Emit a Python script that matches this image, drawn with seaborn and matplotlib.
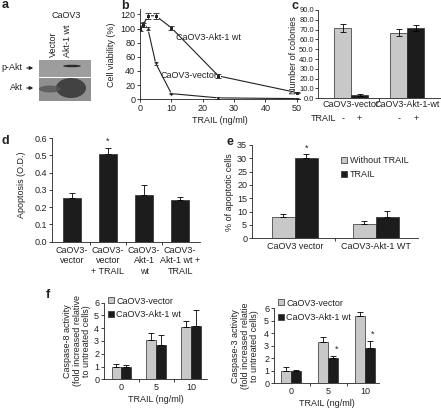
import numpy as np
import pandas as pd
import matplotlib
matplotlib.use("Agg")
import matplotlib.pyplot as plt
import seaborn as sns
from matplotlib.patches import Rectangle, Ellipse
from matplotlib.lines import Line2D
from matplotlib.ticker import FormatStrFormatter

# ---------------- data ----------------
# b: cell viability
trail_b = [0, 1, 2.5, 5, 10, 25, 50]
viab_vector = [100, 107, 100, 51, 8, 2, 1]
viab_akt = [100, 105, 118, 118, 101, 33, 9.5]
err_vector = [2, 2, 2, 2, 1, 1, 0.5]
err_akt = [3, 3, 4, 4, 3, 3, 1]
b_xticks = [0, 10, 20, 30, 40, 50]
b_yticks = [0, 20, 40, 60, 80, 100, 120]

# c: colonies
c_groups = ["CaOV3-vector", "CaOV3-Akt-1-wt"]
c_hue = ["-", "+"]
colonies_no_trail = [72, 67]
colonies_trail = [3, 72]
colonies_no_trail_err = [4, 4]
colonies_trail_err = [1, 3]

# d: apoptosis O.D.
d_labels = ["CaOV3-\nvector", "CaOV3-\nvector\n+ TRAIL", "CaOV3-\nAkt-1\nwt", "CaOV3-\nAkt-1 wt +\nTRAIL"]
apoptosis_od = [0.25, 0.51, 0.27, 0.24]
apoptosis_err = [0.03, 0.03, 0.06, 0.02]

# e: % apoptotic cells
e_groups = ["CaOV3 vector", "CaOV3-Akt-1 WT"]
e_hue = ["Without TRAIL", "TRAIL"]
pct_without = [8, 5.2]
pct_trail = [30, 8]
pct_without_err = [1.3, 1.3]
pct_trail_err = [1.5, 2.3]

# f: caspase activity
f_doses = ["0", "5", "10"]
f_hue = ["CaOV3-vector", "CaOV3-Akt-1 wt"]
casp8_vector = [1.0, 3.1, 4.1]
casp8_akt = [1.0, 2.7, 4.2]
casp8_vector_err = [0.2, 0.5, 0.5]
casp8_akt_err = [0.1, 0.8, 1.2]
casp3_vector = [1.0, 3.3, 5.4]
casp3_akt = [1.0, 2.0, 2.8]
casp3_vector_err = [0.3, 0.4, 0.3]
casp3_akt_err = [0.1, 0.2, 0.6]

# ---------------- style ----------------
sns.set_theme(style="ticks")
plt.rcParams["font.family"] = ["Liberation Sans", "DejaVu Sans"]
FS = 6.5
plt.rcParams.update({
    "font.size": FS, "axes.linewidth": 0.6,
    "xtick.major.width": 0.6, "ytick.major.width": 0.6,
    "xtick.minor.width": 0.6,
    "xtick.major.size": 2, "ytick.major.size": 2, "xtick.minor.size": 2,
    "xtick.labelsize": FS, "ytick.labelsize": FS, "axes.labelsize": FS,
    "xtick.major.pad": 1.5, "ytick.major.pad": 1.5, "axes.labelpad": 2,
    "text.color": "#222222", "axes.labelcolor": "#222222",
    "xtick.color": "#222222", "ytick.color": "#222222", "axes.edgecolor": "#222222",
})
GRAY = "#c8c8c8"
BLACK = "#1c1c1c"
EDGE = "#2a2a2a"

W, H = 441, 408
fig = plt.figure(figsize=(W / 100, H / 100), dpi=100)


def add_ax(L, R, T, B):
    return fig.add_axes([L / W, 1 - B / H, (R - L) / W, (B - T) / H])


def plabel(x, y, s):
    fig.text(x / W, 1 - y / H, s, fontsize=9, fontweight="bold", ha="left", va="center")


def clean(ax):
    sns.despine(ax=ax)
    ax.set_xlabel("")
    ax.set_ylabel("")


def boundary_ticks(ax, n):
    ax.set_xticks(np.arange(0.5, n - 0.5), minor=True)
    ax.tick_params(axis="x", which="major", length=0, pad=3)
    ax.tick_params(axis="x", which="minor", length=2)


def add_err(ax, container, vals_err, two_sided):
    for p, e in zip(container.patches, vals_err):
        xc = p.get_x() + p.get_width() / 2
        h = p.get_height()
        yerr = [[e], [e]] if two_sided else [[0], [e]]
        ax.errorbar(xc, h, yerr=yerr, fmt="none", ecolor="black",
                    elinewidth=0.6, capsize=2, capthick=0.6)


def grouped(ax, cats, names, v1, v2, e1, e2, width, two_sided):
    df = pd.DataFrame({
        "cat": list(cats) * 2,
        "grp": [names[0]] * len(cats) + [names[1]] * len(cats),
        "val": list(v1) + list(v2),
    })
    sns.barplot(data=df, x="cat", y="val", hue="grp", palette=[GRAY, BLACK],
                width=width, edgecolor=EDGE, linewidth=0.5, errorbar=None,
                saturation=1, legend=False, ax=ax)
    for cont, errs in zip(ax.containers, [e1, e2]):
        add_err(ax, cont, errs, two_sided)
    clean(ax)


# ---------------- panel a (blot) ----------------
axa = add_ax(0, 100, 0, 110)
axa.set_xlim(0, 100)
axa.set_ylim(110, 0)
axa.axis("off")
axa.add_patch(Rectangle((39, 60), 52, 16.5, facecolor="#9d9d9d", edgecolor="none"))
axa.add_patch(Rectangle((39, 78), 52, 22.5, facecolor="#8f8f8f", edgecolor="none"))
axa.add_patch(Ellipse((72, 66), 18, 2.5, facecolor="#2a2a2a", edgecolor="none"))
axa.add_patch(Ellipse((71, 88), 30, 20, facecolor="#3a3a3a", edgecolor="none", alpha=0.9))
axa.add_patch(Ellipse((50, 89), 22, 7, facecolor="#555555", edgecolor="none", alpha=0.8))
axa.text(66, 15, "CaOV3", ha="center", va="center", fontsize=FS)
axa.text(53, 57, "Vector", rotation=90, ha="center", va="bottom", fontsize=FS)
axa.text(68, 57, "Akt-1 wt", rotation=90, ha="center", va="bottom", fontsize=FS)
axa.text(1, 68, "p-Akt", ha="left", va="center", fontsize=FS)
axa.text(10, 88, "Akt", ha="left", va="center", fontsize=FS)
for yy in (68, 88):
    axa.annotate("", xy=(36, yy), xytext=(24, yy),
                 arrowprops=dict(arrowstyle="-|>", lw=0.8, color="#222222", mutation_scale=5))
plabel(2, 5, "a")

# ---------------- panel b ----------------
axb = add_ax(140, 300, 8.7, 99.3)
df_b = pd.DataFrame({
    "trail": trail_b * 2,
    "viab": viab_vector + viab_akt,
    "line": ["CaOV3-vector"] * len(trail_b) + ["CaOV3-Akt-1 wt"] * len(trail_b),
})
sns.lineplot(data=df_b, x="trail", y="viab", hue="line", style="line",
             palette=["#222222", "#222222"], markers=["o", "s"], dashes=False,
             markersize=2.5, linewidth=0.8, legend=False, ax=axb)
axb.errorbar(trail_b, viab_akt, yerr=err_akt, fmt="none", ecolor="#222222",
             elinewidth=0.6, capsize=2, capthick=0.6)
axb.errorbar(trail_b, viab_vector, yerr=err_vector, fmt="none", ecolor="#222222",
             elinewidth=0.6, capsize=1.5, capthick=0.6)
clean(axb)
axb.set_xlim(0, 51)
axb.set_ylim(0, 128)
axb.set_xticks(b_xticks)
axb.set_yticks(b_yticks)
axb.set_xlabel("TRAIL (ng/ml)")
axb.set_ylabel("Cell viability (%)")
axb.yaxis.set_label_coords(-0.15, 0.49)
axb.text(11.5, 88, "CaOV3-Akt-1 wt", ha="left", va="center", fontsize=FS)
axb.text(6.5, 34, "CaOV3-vector", ha="left", va="center", fontsize=FS)
plabel(121, 6, "b")

# ---------------- panel c ----------------
axc = add_ax(318, 441, 10, 98.3)
grouped(axc, c_groups, c_hue, colonies_no_trail, colonies_trail,
        colonies_no_trail_err, colonies_trail_err, 0.6, True)
axc.set_xlim(-0.59, 1.6)
axc.set_ylim(0, 90)
axc.set_yticks(np.arange(0, 91, 10))
axc.yaxis.set_major_formatter(FormatStrFormatter("%.1f"))
axc.tick_params(axis="y", labelsize=5.5, pad=1)
boundary_ticks(axc, 2)
axc.tick_params(axis="x", which="major", pad=1.5)
axc.set_ylabel("Number of colonies")
axc.yaxis.set_label_coords(-0.165, 0.49)
axc.text(0.15, -0.225, "TRAIL", transform=axc.transAxes, ha="right", va="center", fontsize=FS)
for cont, sign in zip(axc.containers, c_hue):
    for p in cont.patches:
        axc.text(p.get_x() + p.get_width() / 2, -0.225, sign,
                 transform=axc.get_xaxis_transform(), ha="center", va="center", fontsize=FS)
plabel(291, 6, "c")

# ---------------- panel d ----------------
axd = add_ax(52, 200, 138, 241.7)
df_d = pd.DataFrame({"cond": d_labels, "od": apoptosis_od})
sns.barplot(data=df_d, x="cond", y="od", color=BLACK, saturation=1, width=0.5,
            edgecolor=EDGE, linewidth=0.5, errorbar=None, ax=axd)
add_err(axd, axd.containers[0], apoptosis_err, False)
clean(axd)
axd.set_xlim(-0.55, 3.55)
axd.set_ylim(0, 0.6)
axd.set_yticks(np.arange(0, 0.61, 0.1))
axd.yaxis.set_major_formatter(FormatStrFormatter("%.1f"))
boundary_ticks(axd, 4)
axd.set_ylabel("Apoptosis (O.D.)")
axd.yaxis.set_label_coords(-0.178, 0.55)
p = axd.containers[0].patches[1]
axd.text(p.get_x() + p.get_width() / 2, apoptosis_od[1] + apoptosis_err[1] + 0.015, "*",
         ha="center", va="bottom", fontsize=FS)
plabel(2, 141, "d")

# ---------------- panel e ----------------
axe = add_ax(252, 418, 145, 238.3)
grouped(axe, e_groups, e_hue, pct_without, pct_trail,
        pct_without_err, pct_trail_err, 0.57, False)
axe.set_xlim(-0.53, 1.52)
axe.set_ylim(0, 35)
axe.set_yticks(np.arange(0, 36, 5))
boundary_ticks(axe, 2)
axe.set_ylabel("% of apoptotic cells")
axe.yaxis.set_label_coords(-0.108, 0.49)
p = axe.containers[1].patches[0]
axe.text(p.get_x() + p.get_width() / 2, pct_trail[0] + pct_trail_err[0] + 0.6, "*",
         ha="center", va="bottom", fontsize=FS)
h_e = [Line2D([], [], marker="s", ls="none", markersize=4, markerfacecolor=c,
              markeredgecolor=EDGE, markeredgewidth=0.5) for c in (GRAY, BLACK)]
axe.legend(h_e, e_hue, loc="upper left", bbox_to_anchor=(0.53, 0.88), frameon=False,
           fontsize=FS, handlelength=0.8, handletextpad=0.3, borderpad=0,
           borderaxespad=0, labelspacing=0.5)
plabel(226, 142, "e")

# ---------------- panel f (caspase-8) ----------------
axf1 = add_ax(104, 207, 302.7, 379.3)
grouped(axf1, f_doses, f_hue, casp8_vector, casp8_akt,
        casp8_vector_err, casp8_akt_err, 0.57, False)
axf1.set_xlim(-0.5, 2.45)
axf1.set_ylim(0, 6)
axf1.set_yticks(range(0, 7))
boundary_ticks(axf1, 3)
axf1.set_xlabel("TRAIL (ng/ml)")
axf1.set_ylabel("Caspase-8 activity\n(fold increased relative\nto untreated cells)", linespacing=1.05)
axf1.yaxis.set_label_coords(-0.126, 0.5)
h_f = [Line2D([], [], marker="s", ls="none", markersize=4, markerfacecolor=c,
              markeredgecolor=EDGE, markeredgewidth=0.5) for c in (GRAY, BLACK)]
axf1.legend(h_f, f_hue, loc="upper left", bbox_to_anchor=(0.03, 1.08), frameon=False,
            fontsize=FS, handlelength=0.8, handletextpad=0.2, borderpad=0,
            borderaxespad=0, labelspacing=0.5)
plabel(46, 295, "f")

# ---------------- panel f (caspase-3) ----------------
axf2 = add_ax(274, 379, 308.3, 383.3)
grouped(axf2, f_doses, f_hue, casp3_vector, casp3_akt,
        casp3_vector_err, casp3_akt_err, 0.55, False)
axf2.set_xlim(-0.47, 2.38)
axf2.set_ylim(0, 6)
axf2.set_yticks(range(0, 7))
boundary_ticks(axf2, 3)
axf2.set_xlabel("TRAIL (ng/ml)")
axf2.set_ylabel("Caspase-3 activity\n(fold increased relatie\nto untreated cells)", linespacing=1.05)
axf2.yaxis.set_label_coords(-0.143, 0.5)
axf2.legend(h_f, f_hue, loc="upper left", bbox_to_anchor=(0.03, 1.13), frameon=False,
            fontsize=FS, handlelength=0.8, handletextpad=0.2, borderpad=0,
            borderaxespad=0, labelspacing=0.6)
for i in (1, 2):
    p = axf2.containers[1].patches[i]
    axf2.text(p.get_x() + p.get_width() / 2 + 0.08, casp3_akt[i] + casp3_akt_err[i] + 0.15, "*",
              ha="center", va="bottom", fontsize=FS)

fig.savefig("out.png", dpi=100)
